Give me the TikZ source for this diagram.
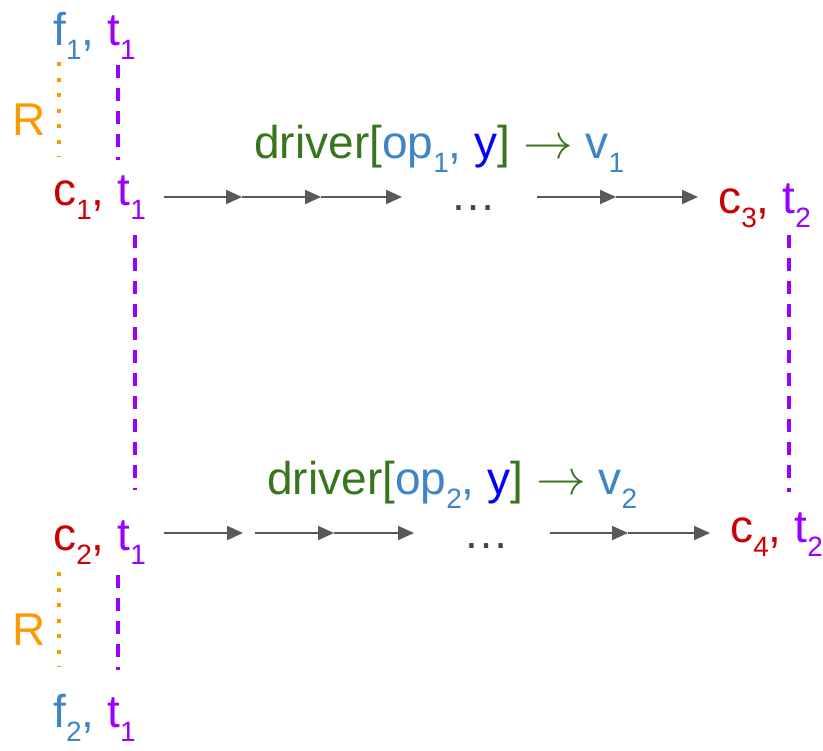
\documentclass[tikz,border=0pt]{standalone}
\usepackage{fontspec}
\setmainfont{Liberation Sans}
\usepackage{xcolor}
\definecolor{cred}{RGB}{204, 0, 0}
\definecolor{tpurple}{RGB}{153, 0, 255}
\definecolor{fblue}{RGB}{61, 133, 198}
\definecolor{yblue}{RGB}{0, 0, 255}
\definecolor{drvgreen}{RGB}{56, 118, 29}
\definecolor{rorange}{RGB}{255, 153, 0}
\definecolor{arrowgray}{RGB}{89, 89, 89}
\definecolor{dotgray}{RGB}{68, 68, 68}
\usetikzlibrary{arrows.meta}
\newcommand{\subidx}[1]{\raisebox{-7pt}{\fontsize{14}{15}\selectfont #1}}

\begin{document}
\begin{tikzpicture}[
  x=0.5pt, y=-0.5pt,
  lbl/.style={anchor=base west, inner sep=0pt, font=\fontsize{23}{28}\selectfont},
  chain/.style={-{Triangle[length=8pt,width=7pt]}, line width=1pt, color=arrowgray},
  tline/.style={draw=tpurple, line width=2pt, dash pattern=on 6.5pt off 5pt},
  rline/.style={draw=rorange, line width=2pt, dash pattern=on 2pt off 5.8pt}
]
\useasboundingbox (0,0) rectangle (823,750);

% labels on the left
\node[lbl] (f1) at (53,45) {\textcolor{fblue}{f\subidx{1},} \textcolor{tpurple}{t\subidx{1}}};
\node[lbl, text=rorange] (r1) at (12,135) {R};
\node[lbl] (c1) at (53,205) {\textcolor{cred}{c\subidx{1},} \textcolor{tpurple}{t\subidx{1}}};
\node[lbl] (c2) at (53,550) {\textcolor{cred}{c\subidx{2},} \textcolor{tpurple}{t\subidx{1}}};
\node[lbl, text=rorange] (r2) at (12,645) {R};
\node[lbl] (f2) at (53,727) {\textcolor{fblue}{f\subidx{2},} \textcolor{tpurple}{t\subidx{1}}};

% labels on the right
\node[lbl] (c3) at (718,213) {\textcolor{cred}{c\subidx{3},} \textcolor{tpurple}{t\subidx{2}}};
\node[lbl] (c4) at (730,542) {\textcolor{cred}{c\subidx{4},} \textcolor{tpurple}{t\subidx{2}}};

% driver labels
\node[lbl] (drv1) at (254,158) {\textcolor{drvgreen}{driver[}\textcolor{fblue}{op\subidx{1},} \textcolor{yblue}{y}\textcolor{drvgreen}{] $\rightarrow$} \textcolor{fblue}{v\subidx{1}}};
\node[lbl] (drv2) at (267,494) {\textcolor{drvgreen}{driver[}\textcolor{fblue}{op\subidx{2},} \textcolor{yblue}{y}\textcolor{drvgreen}{] $\rightarrow$} \textcolor{fblue}{v\subidx{2}}};
\node[lbl, text=dotgray] (dots1) at (450,210) {…};
\node[lbl, text=dotgray] (dots2) at (463,548) {…};

% points of the two chains
\coordinate (a0) at (164,197);
\coordinate (a1) at (242,197);
\coordinate (a2) at (321,197);
\coordinate (a3) at (402,197);
\coordinate (a4) at (537,197);
\coordinate (a5) at (616,197);
\coordinate (a6) at (698,197);
\coordinate (b0) at (164,533);
\coordinate (b1) at (243,533);
\coordinate (b2) at (255,533);
\coordinate (b3) at (334,533);
\coordinate (b4) at (414,533);
\coordinate (b5) at (550,533);
\coordinate (b6) at (628,533);
\coordinate (b7) at (710,533);

\draw[chain] (a0) -- (a1);
\draw[chain] (a1) -- (a2);
\draw[chain] (a2) -- (a3);
\draw[chain] (a4) -- (a5);
\draw[chain] (a5) -- (a6);
\draw[chain] (b0) -- (b1);
\draw[chain] (b2) -- (b3);
\draw[chain] (b3) -- (b4);
\draw[chain] (b5) -- (b6);
\draw[chain] (b6) -- (b7);

% ends of the vertical links
\coordinate (rt1) at (59,62);
\coordinate (rb1) at (59,157);
\coordinate (rt2) at (59,572);
\coordinate (rb2) at (59,667);
\coordinate (tt1) at (118,65);
\coordinate (tb1) at (118,160);
\coordinate (tt2) at (135,235);
\coordinate (tb2) at (135,490);
\coordinate (tt3) at (118,575);
\coordinate (tb3) at (118,670);
\coordinate (tt4) at (789,235);
\coordinate (tb4) at (789,492);

\draw[rline] (rt1) -- (rb1);
\draw[rline] (rt2) -- (rb2);
\draw[tline] (tt1) -- (tb1);
\draw[tline] (tt2) -- (tb2);
\draw[tline] (tt3) -- (tb3);
\draw[tline] (tt4) -- (tb4);
\end{tikzpicture}
\end{document}
